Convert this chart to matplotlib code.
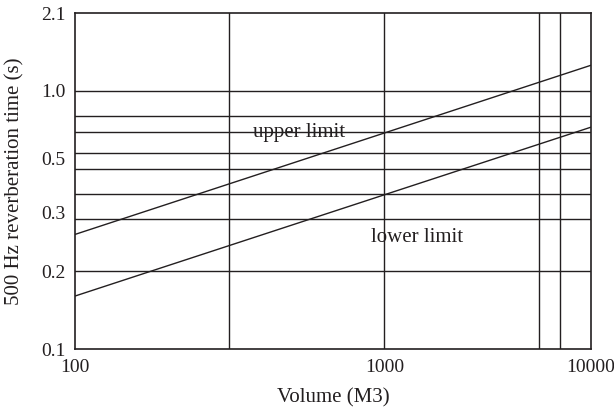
import matplotlib
matplotlib.use("Agg")
import matplotlib.pyplot as plt

# --- data ---
# grid positions (in data units of the log axes)
x_grid = [396, 1581, 6303, 7585]
y_grid = [0.2, 0.318, 0.40, 0.50, 0.577, 0.694, 0.80, 1.0]

# tick positions and the labels printed at them
x_ticks = [100, 1581, 10000]
x_labels = ["100", "1000", "10000"]
y_ticks = [0.1, 0.2, 0.339, 0.549, 1.0, 2.0]
y_labels = ["0.1", "0.2", "0.3", "0.5", "1.0", "2.1"]

# the two limit lines (end points)
volume = [100, 10000]
upper_limit = [0.278, 1.258]
lower_limit = [0.1604, 0.724]

ink = "#231f20"
plt.rcParams["font.family"] = ["Liberation Serif", "DejaVu Serif"]

fig = plt.figure(figsize=(6.14, 4.13), dpi=100)
ax = fig.add_axes([75 / 614, 64 / 413, 516 / 614, 335.7 / 413])
ax.set_xscale("log")
ax.set_yscale("log")
ax.set_xlim(100, 10000)
ax.set_ylim(0.1, 2.0)

for x in x_grid:
    ax.axvline(x, color=ink, lw=1.0)
for y in y_grid:
    ax.axhline(y, color=ink, lw=1.0)

ax.plot(volume, upper_limit, color=ink, lw=1.0)
ax.plot(volume, lower_limit, color=ink, lw=1.0)

ax.text(738, 0.662, "upper limit", fontsize=15, color=ink, ha="center", va="baseline")
ax.text(2117, 0.260, "lower limit", fontsize=15, color=ink, ha="center", va="baseline")

ax.xaxis.set_major_locator(matplotlib.ticker.FixedLocator(x_ticks))
ax.xaxis.set_minor_locator(matplotlib.ticker.NullLocator())
ax.set_xticklabels(x_labels)
ax.yaxis.set_major_locator(matplotlib.ticker.FixedLocator(y_ticks))
ax.yaxis.set_minor_locator(matplotlib.ticker.NullLocator())
ax.set_yticklabels(y_labels)
ax.tick_params(length=0, labelsize=14, labelcolor=ink, pad=7)

for s in ax.spines.values():
    s.set_color(ink)
    s.set_linewidth(1.2)

ax.set_xlabel("Volume (M3)", fontsize=15, color=ink, labelpad=9)
ax.set_ylabel("500 Hz reverberation time (s)", fontsize=15, color=ink, labelpad=12)

fig.savefig("out.png", dpi=100)
